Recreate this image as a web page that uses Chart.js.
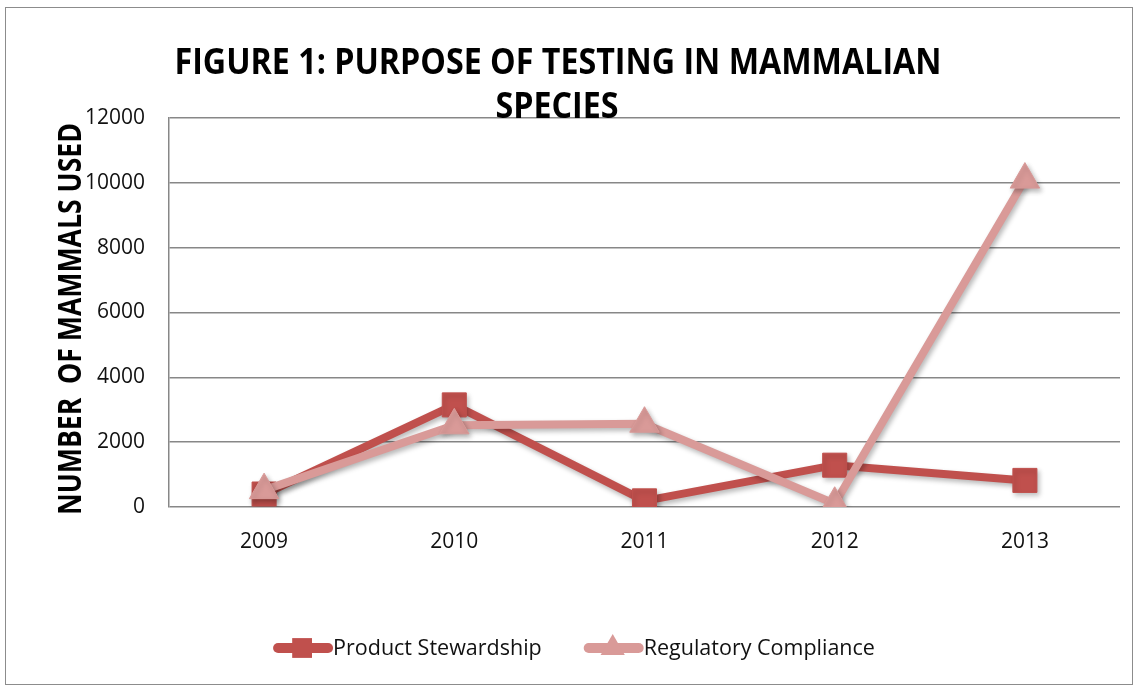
<!DOCTYPE html>
<html>
<head>
<meta charset="utf-8">
<script src="https://cdn.jsdelivr.net/npm/chart.js@4/dist/chart.umd.min.js"></script>
<style>
  html, body { margin: 0; padding: 0; background: #fff; }
</style>
</head>
<body>
<canvas id="chart" width="1138" height="687"></canvas>
<script>
// данные
const years = ['2009', '2010', '2011', '2012', '2013'];
const productStewardship = [400, 3150, 190, 1290, 820];
const regulatoryCompliance = [520, 2520, 2570, 100, 10100];
const yMax = 12000;
const yStep = 2000;
const titleLines = ['FIGURE 1: PURPOSE OF TESTING IN MAMMALIAN', 'SPECIES'];
const yAxisTitle = 'NUMBER  OF MAMMALS USED';
const seriesNames = ['Product Stewardship', 'Regulatory Compliance'];

const RED = '#C0504D';
const PINK = '#D99A98';
const GRID = '#878787';
const TEXT = '#111';

// сжатый по ширине текст (оригинал в Calibri)
function drawFitted(ctx, text, cx, cy, font, targetWidth) {
    ctx.save();
    ctx.font = font;
    const w = ctx.measureText(text).width;
    const k = targetWidth / w;
    ctx.translate(cx, cy);
    ctx.scale(k, 1);
    ctx.textAlign = 'center';
    ctx.textBaseline = 'alphabetic';
    ctx.fillText(text, 0, 0);
    ctx.restore();
    return k;
}

const decorPlugin = {
    id: 'decor',
    beforeDraw(chart) {
        const ctx = chart.ctx;
        ctx.save();
        ctx.fillStyle = '#fff';
        ctx.fillRect(0, 0, chart.width, chart.height);
        ctx.strokeStyle = '#8c8c8c';
        ctx.lineWidth = 1;
        ctx.strokeRect(5.5, 7.5, 1127, 677);
        ctx.restore();
    },
    beforeDatasetsDraw(chart) {
        const ctx = chart.ctx;
        ctx.save();
        ctx.shadowColor = 'rgba(0,0,0,0.28)';
        ctx.shadowBlur = 5;
        ctx.shadowOffsetX = 2;
        ctx.shadowOffsetY = 3;
    },
    afterDatasetsDraw(chart) {
        chart.ctx.restore();
    },
    afterDraw(chart) {
        const ctx = chart.ctx;
        ctx.save();
        ctx.fillStyle = '#000';
        // заголовок
        const k = drawFitted(ctx, titleLines[0], 558, 74, 'bold 35px "Open Sans"', 767);
        ctx.save();
        ctx.font = 'bold 35px "Open Sans"';
        ctx.translate(557, 118);
        ctx.scale(k, 1);
        ctx.textAlign = 'center';
        ctx.fillText(titleLines[1], 0, 0);
        ctx.restore();

        // подпись оси Y
        ctx.save();
        ctx.translate(81, 319);
        ctx.rotate(-Math.PI / 2);
        drawFitted(ctx, yAxisTitle, 0, 0, 'bold 33px "Open Sans"', 392);
        ctx.restore();

        // легенда: линия с маркером + текст
        ctx.font = '21.5px "Open Sans"';
        const lineLen = 58;
        const gap = 42;
        const widths = seriesNames.map(n => lineLen + 2 + ctx.measureText(n).width);
        const total = widths[0] + widths[1] + gap;
        let x = 574 - total / 2;
        const y = 648;
        chart.data.datasets.forEach((ds, i) => {
            ctx.save();
            ctx.strokeStyle = ds.borderColor;
            ctx.lineWidth = 10;
            ctx.lineCap = 'round';
            ctx.beginPath();
            ctx.moveTo(x + 5, y);
            ctx.lineTo(x + lineLen - 3, y);
            ctx.stroke();
            ctx.fillStyle = ds.pointBackgroundColor;
            ctx.strokeStyle = ds.pointBackgroundColor;
            ctx.lineWidth = 1;
            Chart.helpers.drawPoint(ctx, { pointStyle: ds.pointStyle, radius: 14, rotation: 0 }, x + lineLen / 2, y);
            ctx.restore();
            ctx.fillStyle = TEXT;
            ctx.textBaseline = 'middle';
            ctx.textAlign = 'left';
            ctx.fillText(seriesNames[i], x + lineLen + 2, y + 1);
            x += widths[i] + gap;
        });
        ctx.restore();
    }
};

const ctx = document.getElementById('chart').getContext('2d');
new Chart(ctx, {
    type: 'line',
    data: {
        labels: years,
        datasets: [
            {
                label: seriesNames[0],
                data: productStewardship,
                borderColor: RED,
                backgroundColor: RED,
                pointBackgroundColor: RED,
                pointBorderColor: RED,
                borderWidth: 8,
                pointStyle: 'rect',
                pointRadius: 17,
                pointBorderWidth: 1,
                tension: 0,
                order: 2
            },
            {
                label: seriesNames[1],
                data: regulatoryCompliance,
                borderColor: PINK,
                backgroundColor: PINK,
                pointBackgroundColor: PINK,
                pointBorderColor: PINK,
                borderWidth: 8,
                pointStyle: 'triangle',
                pointRadius: 17,
                pointBorderWidth: 1,
                tension: 0,
                order: 1
            }
        ]
    },
    options: {
        responsive: false,
        animation: false,
        layout: { padding: { top: 118, right: 18, left: 0, bottom: 0 } },
        plugins: {
            legend: { display: false },
            title: { display: false },
            tooltip: { enabled: false }
        },
        scales: {
            x: {
                offset: true,
                grid: { display: false },
                border: { display: false },
                ticks: {
                    color: TEXT,
                    font: { family: 'Open Sans', size: 21 },
                    padding: 14
                },
                afterFit(scale) { scale.height = 180; }
            },
            y: {
                min: 0,
                max: yMax,
                ticks: {
                    stepSize: yStep,
                    color: TEXT,
                    font: { family: 'Open Sans', size: 21 },
                    padding: 24,
                    callback: value => String(value)
                },
                grid: { color: GRID, lineWidth: 1.5, drawTicks: false },
                border: { display: true, color: GRID, width: 1.5 },
                afterFit(scale) { scale.width = 169; }
            }
        }
    },
    plugins: [decorPlugin]
});
</script>
</body>
</html>
